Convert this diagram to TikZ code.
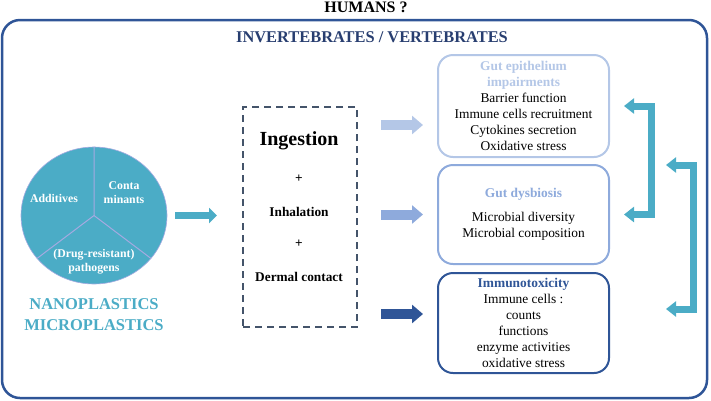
\documentclass[tikz,border=0pt]{standalone}
\usepackage{fontspec}
\setmainfont{Liberation Serif}
\usetikzlibrary{arrows.meta,positioning,shapes.geometric}
\definecolor{FrameBlue}{RGB}{47,85,151}
\definecolor{TitleBlue}{RGB}{40,62,112}
\definecolor{PlastTeal}{RGB}{75,172,198}
\definecolor{EpiBlue}{RGB}{180,199,231}
\definecolor{DysBlue}{RGB}{142,170,220}
\definecolor{RouteGray}{RGB}{68,84,106}
\definecolor{SliceLine}{RGB}{165,170,225}
\newcommand{\sizeto}[2]{\fontsize{#1}{#2}\selectfont}
\newcommand{\fxhead}[2]{\textcolor{#1}{\bfseries #2}}

\begin{document}
\begin{tikzpicture}[
  x=1pt, y=-1pt,
  effect/.style={rounded corners=15pt, line width=2pt, fill=white, minimum width=171pt, inner sep=0pt, align=center, font=\sizeto{13.4}{16}},
  fat/.style={line width=10pt, -{Triangle[length=11pt,width=18pt]}},
  bracket/.style={line width=7pt, draw=PlastTeal, {Triangle[length=10pt,width=15pt]}-{Triangle[length=10pt,width=15pt]}, line join=miter},
  route/.style={font=\bfseries\sizeto{13.3}{16}},
  slice/.style={text=white, font=\bfseries\sizeto{11.8}{14}, align=center}
]
\useasboundingbox (0,0) rectangle (711,400);
\node[draw=FrameBlue, line width=2.5pt, rounded corners=18pt, minimum width=705pt, minimum height=378pt] (frame) at (354.5,209) {};
\node[font=\bfseries\sizeto{16}{18}, anchor=base] (humans) at (366,12.5) {HUMANS ?};
\node[font=\bfseries\sizeto{16.4}{18}, text=TitleBlue, anchor=base] (animals) at (372,42.5) {INVERTEBRATES / VERTEBRATES};

\node[ellipse, fill=PlastTeal, draw=SliceLine, line width=0.6pt, minimum width=146pt, minimum height=137pt, inner sep=0pt] (pie) at (94,215.5) {};
\draw[SliceLine, line width=1pt] (pie.north) -- (pie.center) -- (pie.217);
\draw[SliceLine, line width=1pt] (pie.center) -- (pie.323);
\node[slice] (additives) at (54,198) {Additives};
\node[slice] (contam) at (124,193) {Conta\\minants};
\node[slice] (pathogens) at (94,262) {(Drug-resistant)\\pathogens};
\node[text=PlastTeal, font=\bfseries\sizeto{16.5}{21}, align=center] (plastics) at (94,315) {NANOPLASTICS\\MICROPLASTICS};

\node[draw=RouteGray, line width=2pt, dash pattern=on 7pt off 5pt, minimum width=114pt, minimum height=220pt] (route) at (300,217) {};
\node[font=\bfseries\sizeto{20}{24}] (ingest) at (299,141) {Ingestion};
\node[route] (plusa) at (299,179) {+};
\node[route] (inhal) at (299,212) {Inhalation};
\node[route] (plusb) at (299,244) {+};
\node[route] (dermal) at (299,277) {Dermal contact};

\node[effect, draw=EpiBlue, minimum height=102pt] (epi) at (523.5,106) {\fxhead{EpiBlue}{Gut epithelium}\\\fxhead{EpiBlue}{impairments}\\Barrier function\\Immune cells recruitment\\Cytokines secretion\\Oxidative stress};
\node[effect, draw=DysBlue, minimum height=99pt] (dys) at (523.5,214.5) {\fxhead{DysBlue}{Gut dysbiosis}\\[8pt]Microbial diversity\\Microbial composition};
\node[effect, draw=FrameBlue, minimum height=100pt] (immuno) at (523.5,323) {\fxhead{FrameBlue}{Immunotoxicity}\\Immune cells :\\counts\\functions\\enzyme activities\\oxidative stress};

\coordinate (toepi) at (0,125);
\coordinate (toimmuno) at (0,314);

\draw[PlastTeal, line width=7pt, -{Triangle[length=8pt,width=15pt]}, shorten <=8pt, shorten >=25pt] (pie.east) -- (pie.east -| route.west);
\draw[fat, draw=EpiBlue, shorten <=23pt, shorten >=14pt] (route.east |- toepi) -- (epi.west |- toepi);
\draw[fat, draw=DysBlue, shorten <=23pt, shorten >=14pt] (route.east |- dys.west) -- (dys.west);
\draw[fat, draw=FrameBlue, shorten <=23pt, shorten >=14pt] (route.east |- toimmuno) -- (immuno.west |- toimmuno);

\draw[bracket, shorten <=14pt, shorten >=14pt] (epi.east) -- ++(41,0) |- (dys.east);
\draw[bracket, shorten <=56pt, shorten >=56pt] ([yshift=-1pt]dys.north east) -- ++(83,0) |- ([yshift=14pt]immuno.east);
\end{tikzpicture}
\end{document}
